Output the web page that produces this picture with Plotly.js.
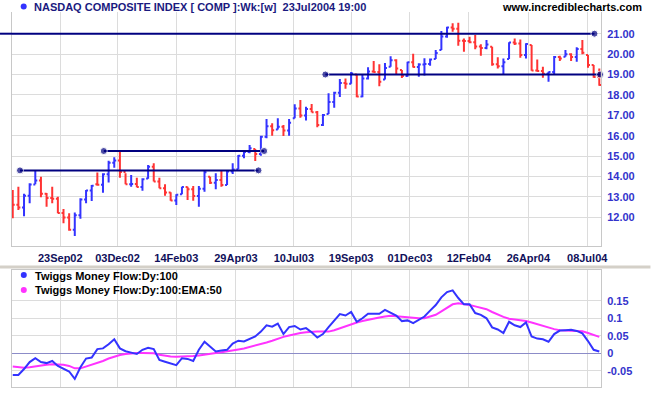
<!DOCTYPE html>
<html><head><meta charset="utf-8">
<script src="https://cdn.plot.ly/plotly-3.0.1.min.js"></script>
<style>html,body{margin:0;padding:0;background:#fff}</style>
</head><body><div id="chart" style="width:651px;height:395px"></div>
<script>
// ---- data (index values / 100) ----
const firstWeek = '2002-07-26';   // weekly bars, Friday week-ending
const open  = [13.20,12.62,12.48,13.06,13.61,13.80,13.15,12.95,12.91,12.21,11.99,11.39,12.10,12.87,13.31,13.62,13.59,14.11,14.68,14.79,
               14.22,13.62,13.63,13.48,13.90,14.48,13.76,13.42,13.21,12.82,13.13,13.49,13.37,13.05,13.40,13.99,13.69,13.83,13.58,14.25,
               14.35,15.02,15.20,15.35,15.10,15.95,16.46,16.31,16.44,16.25,16.85,17.33,16.99,17.31,17.15,16.52,17.06,17.65,18.10,18.58,
               18.55,19.00,17.92,18.80,19.15,19.12,18.75,19.38,19.70,19.22,18.93,19.60,19.37,19.49,19.51,19.76,20.20,20.86,21.30,21.24,
               20.66,20.64,20.58,20.37,20.30,20.36,19.50,19.40,19.76,20.57,20.52,19.95,20.45,19.20,19.17,19.04,19.12,19.86,19.87,19.99,
               19.86,20.25,19.96,19.46,18.88];
const high  = [13.34,13.50,13.15,13.67,14.28,13.99,13.19,13.50,13.01,12.41,12.20,12.23,12.93,13.34,13.58,14.19,14.16,14.77,14.94,15.22,
               14.16,14.07,13.94,13.91,14.56,14.65,13.94,13.62,13.23,13.13,13.50,13.50,13.53,13.53,14.30,13.99,14.16,14.32,14.32,14.65,
               15.05,15.30,15.54,15.35,16.00,16.82,16.61,16.85,16.52,16.82,17.54,17.75,17.42,17.55,17.21,17.06,18.08,18.16,18.78,18.80,
               19.12,19.00,19.02,19.36,19.66,19.50,19.56,19.90,19.75,19.22,19.63,20.02,19.55,19.80,19.79,20.20,21.13,21.34,21.51,21.54,
               20.77,20.85,20.94,20.48,20.69,20.36,19.84,19.79,20.58,20.77,20.72,20.53,20.45,19.74,19.38,19.14,19.91,19.92,20.20,20.04,
               20.33,20.69,19.96,19.47,19.30];
const low   = [11.95,12.36,12.05,12.69,13.62,12.98,12.52,12.69,12.20,11.71,11.34,11.08,11.93,12.69,12.80,13.55,13.20,13.70,14.43,13.94,
               13.62,13.50,13.47,13.30,13.89,13.76,13.42,13.06,12.81,12.60,13.13,12.85,12.81,12.52,13.25,13.63,13.37,13.50,13.58,14.12,
               14.35,14.89,15.14,14.76,15.02,15.87,16.00,16.31,15.99,16.00,16.85,16.88,16.74,17.15,16.41,16.48,17.06,17.37,17.90,18.30,
               18.55,17.88,17.88,18.76,19.09,18.42,18.75,19.38,19.00,18.83,18.89,19.34,18.89,18.95,19.43,19.76,20.20,20.80,21.10,20.41,
               20.12,20.53,20.24,19.92,20.24,19.43,19.30,18.98,19.76,20.45,19.82,19.79,19.19,19.14,18.84,18.65,19.01,19.66,19.87,19.66,
               19.63,19.99,19.33,18.84,18.45];
const close = [12.62,12.48,13.06,13.61,13.80,13.15,12.95,12.91,12.21,11.99,11.39,12.10,12.87,13.31,13.55,13.59,14.11,14.68,14.79,14.22,
               13.62,13.63,13.48,13.87,14.48,13.76,13.42,13.21,12.82,13.10,13.49,13.37,13.05,13.40,14.21,13.69,13.83,13.58,14.25,14.34,
               15.02,15.20,15.38,15.10,15.95,16.46,16.27,16.44,16.25,16.63,17.33,16.99,17.31,17.15,16.52,17.02,17.65,18.10,18.58,18.55,
               19.05,17.92,18.80,19.15,19.12,18.65,19.32,19.70,19.30,18.93,19.60,19.37,19.49,19.51,19.74,20.06,20.86,21.30,21.24,20.66,
               20.64,20.58,20.37,20.30,20.47,19.50,19.40,19.60,20.57,20.52,19.95,20.49,19.20,19.17,19.04,19.12,19.86,19.78,19.99,19.86,
               20.25,20.07,19.46,18.88,18.49];
const tmf   = [-0.062,-0.062,-0.045,-0.025,-0.014,-0.025,-0.028,-0.022,-0.036,-0.044,-0.052,-0.073,-0.040,-0.015,-0.012,0.012,0.014,0.026,0.040,0.014,
               0.006,0.002,-0.002,0.010,0.016,0.012,-0.019,-0.024,-0.030,-0.034,-0.014,-0.016,-0.022,0.010,0.033,0.020,0.005,0.008,0.010,0.028,
               0.036,0.034,0.040,0.048,0.062,0.080,0.076,0.085,0.055,0.075,0.078,0.068,0.072,0.060,0.045,0.055,0.075,0.095,0.112,0.108,
               0.118,0.090,0.100,0.113,0.112,0.113,0.124,0.115,0.108,0.092,0.094,0.086,0.095,0.105,0.122,0.138,0.160,0.175,0.180,0.158,
               0.140,0.140,0.115,0.110,0.100,0.074,0.068,0.058,0.090,0.080,0.075,0.088,0.048,0.042,0.040,0.033,0.055,0.065,0.066,0.067,
               0.064,0.057,0.035,0.010,0.005];
const tmfEma = [-0.038,-0.040,-0.041,-0.040,-0.037,-0.035,-0.033,-0.031,-0.031,-0.033,-0.036,-0.043,-0.043,-0.038,-0.032,-0.027,-0.022,-0.015,-0.009,-0.005,
               -0.002,0.000,0.001,0.001,0.001,0.000,-0.004,-0.007,-0.009,-0.010,-0.010,-0.009,-0.008,-0.006,-0.003,-0.001,0.001,0.003,0.005,0.008,
               0.011,0.014,0.018,0.021,0.025,0.031,0.036,0.042,0.047,0.051,0.055,0.058,0.060,0.062,0.062,0.062,0.062,0.066,0.072,0.078,
               0.084,0.088,0.092,0.096,0.099,0.102,0.105,0.107,0.106,0.104,0.103,0.101,0.100,0.100,0.104,0.110,0.120,0.130,0.140,0.143,
               0.141,0.138,0.134,0.130,0.126,0.118,0.110,0.104,0.099,0.097,0.095,0.092,0.088,0.083,0.078,0.073,0.069,0.066,0.065,0.065,
               0.065,0.063,0.058,0.052,0.047];
const xTickDates = ['2002-09-23','2002-12-03','2003-02-14','2003-04-29','2003-07-10','2003-09-19','2003-12-01','2004-02-12','2004-04-26','2004-07-08'];
const xTickText  = ['23Sep02','03Dec02','14Feb03','29Apr03','10Jul03','19Sep03','01Dec03','12Feb04','26Apr04','08Jul04'];
const priceTicks = [12,13,14,15,16,17,18,19,20,21];
const tmfTicks = [-0.05,0,0.05,0.1,0.15];
const tmfTickText = ['-0.05','0','0.05','0.1','0.15'];
// drawn trend lines: start date, end date, level, dots at start / end
const lineStart = ['2002-07-25','2003-08-18','2002-11-16','2002-08-04'];
const lineEnd   = ['2004-07-17','2004-07-24','2003-06-03','2003-05-27'];
const lineLevel = [21.0, 19.0, 15.25, 14.30];
const lineStartDot = [false, true, true, true];

// ---- build ----
function addDays(s, n){ const d = new Date(s + 'T00:00:00Z'); d.setUTCDate(d.getUTCDate() + n); return d.toISOString().slice(0,10); }
const dates = close.map((_, i) => addDays(firstWeek, 7*i));

const BLUE = '#3333ff', RED = '#ff3333', NAVY = '#000080', MAG = '#ff33ff';
const FONT = 'Liberation Sans, Arial, sans-serif';
const xRange = ['2002-07-25 02:00', '2004-07-25 03:00'];

const traces = [{
  type: 'ohlc', x: dates, open: open, high: high, low: low, close: close,
  xaxis: 'x', yaxis: 'y', tickwidth: 0.35,
  increasing: {line: {color: BLUE, width: 2}},
  decreasing: {line: {color: RED, width: 2}},
  hoverinfo: 'skip'
}];
for (let k = 0; k < lineLevel.length; k++) {
  traces.push({
    type: 'scatter', mode: 'lines+markers', x: [lineStart[k], lineEnd[k]], y: [lineLevel[k], lineLevel[k]],
    xaxis: 'x', yaxis: 'y', line: {color: NAVY, width: 2},
    marker: {color: NAVY, size: [lineStartDot[k] ? 7 : 0, 7]}, cliponaxis: false, hoverinfo: 'skip'
  });
}
traces.push({type: 'scatter', mode: 'lines', x: dates, y: tmfEma, xaxis: 'x2', yaxis: 'y2', line: {color: MAG, width: 2}, hoverinfo: 'skip'});
traces.push({type: 'scatter', mode: 'lines', x: dates, y: tmf, xaxis: 'x2', yaxis: 'y2', line: {color: BLUE, width: 2}, hoverinfo: 'skip'});

const W = 651, H = 395, ml = 12, mr = 49.5, mt = 12, mb = 8;
const pw = W - ml - mr, ph = H - mt - mb;
const px = x => (x - ml) / pw;          // pixel -> paper x
const py = y => (H - mb - y) / ph;      // pixel -> paper y

const tickFontBlue = {family: FONT, size: 11, color: '#3333cc', weight: 'bold'};
const gridC = '#dcdcdc', lineC = '#c8c8c8';

const layout = {
  width: W, height: H, margin: {l: ml, r: mr, t: mt, b: mb},
  paper_bgcolor: '#ffffff', plot_bgcolor: '#ffffff', showlegend: false,
  font: {family: FONT, size: 11},
  xaxis: {type: 'date', range: xRange, domain: [0, 1], anchor: 'y', tickvals: xTickDates, ticktext: xTickText,
          showgrid: true, gridcolor: gridC, showline: true, linecolor: lineC, ticks: '', zeroline: false, ticklabelstandoff: 2,
          rangeslider: {visible: false}, tickfont: {family: FONT, size: 11, color: '#10105a', weight: 'bold'}},
  yaxis: {domain: [py(246), py(12)], range: [10.593, 22.064], side: 'right', anchor: 'x',
          tickvals: priceTicks, ticktext: priceTicks.map(v => v.toFixed(2)), showgrid: true, gridcolor: gridC, ticklabelstandoff: 3,
          showline: true, mirror: true, linecolor: lineC, ticks: '', zeroline: false, tickfont: tickFontBlue},
  xaxis2: {type: 'date', range: xRange, domain: [0, 1], anchor: 'y2', tickvals: xTickDates, showticklabels: false,
           showgrid: true, gridcolor: gridC, showline: true, mirror: true, linecolor: lineC, ticks: '', zeroline: false},
  yaxis2: {domain: [0, py(270)], range: [-0.0963, 0.238], side: 'right', anchor: 'x2', ticklabelstandoff: 3,
           tickvals: tmfTicks, ticktext: tmfTickText, showgrid: true, gridcolor: gridC,
           showline: true, mirror: true, linecolor: lineC, ticks: '', zeroline: true, zerolinecolor: '#8c8cc8', zerolinewidth: 1,
           tickfont: tickFontBlue},
  shapes: [
    {type: 'line', xref: 'paper', yref: 'y', x0: px(0), x1: 0, y0: lineLevel[0], y1: lineLevel[0], line: {color: NAVY, width: 2}},
    {type: 'line', xref: 'paper', yref: 'paper', x0: px(0), x1: px(W), y0: py(267), y1: py(267), line: {color: '#d4d0c8', width: 3}},
    {type: 'circle', xref: 'paper', yref: 'paper', xsizemode: 'pixel', ysizemode: 'pixel', xanchor: px(23.7), yanchor: py(6.5),
     x0: -3, x1: 3, y0: -3, y1: 3, fillcolor: BLUE, line: {width: 0}},
    {type: 'circle', xref: 'paper', yref: 'paper', xsizemode: 'pixel', ysizemode: 'pixel', xanchor: px(23.8), yanchor: py(275),
     x0: -3, x1: 3, y0: -3, y1: 3, fillcolor: BLUE, line: {width: 0}},
    {type: 'circle', xref: 'paper', yref: 'paper', xsizemode: 'pixel', ysizemode: 'pixel', xanchor: px(23.8), yanchor: py(290),
     x0: -3, x1: 3, y0: -3, y1: 3, fillcolor: MAG, line: {width: 0}}
  ],
  annotations: [
    {xref: 'paper', yref: 'paper', x: px(32), y: py(7.5), xanchor: 'left', yanchor: 'middle', showarrow: false,
     text: 'NASDAQ COMPOSITE INDEX [ COMP ]:Wk:[w]  23Jul2004 19:00', font: {family: FONT, size: 11, color: '#1a1a80', weight: 'bold'}},
    {xref: 'paper', yref: 'paper', x: px(645), y: py(7.5), xanchor: 'right', yanchor: 'middle', showarrow: false,
     text: 'www.incrediblecharts.com', font: {family: FONT, size: 11, color: '#000000', weight: 'bold'}},
    {xref: 'paper', yref: 'paper', x: px(33), y: py(275.5), xanchor: 'left', yanchor: 'middle', showarrow: false,
     text: 'Twiggs Money Flow:Dy:100', font: {family: FONT, size: 11, color: '#000000', weight: 'bold'}},
    {xref: 'paper', yref: 'paper', x: px(33), y: py(290), xanchor: 'left', yanchor: 'middle', showarrow: false,
     text: 'Twiggs Money Flow:Dy:100:EMA:50', font: {family: FONT, size: 11, color: '#000000', weight: 'bold'}}
  ]
};
Plotly.newPlot('chart', traces, layout, {staticPlot: true, displayModeBar: false});
</script></body></html>
